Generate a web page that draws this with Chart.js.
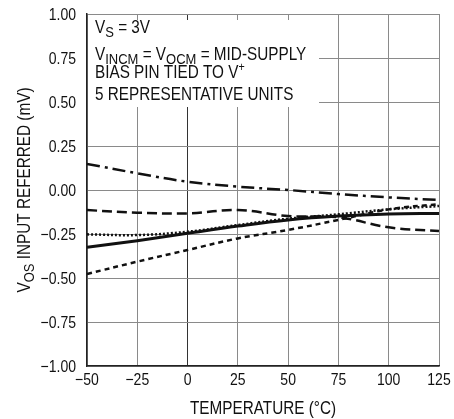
<!DOCTYPE html>
<html>
<head>
<meta charset="utf-8">
<script src="https://cdn.jsdelivr.net/npm/chart.js@4.4.0/dist/chart.umd.min.js"></script>
<style>
  html, body { margin: 0; padding: 0; background: #fff; }
  #wrap { width: 454px; height: 419px; }
</style>
</head>
<body>
<div id="wrap"><canvas id="grafik" width="454" height="419"></canvas></div>
<script>
// temperatures (°C)
const temps = [-50, -25, 0, 25, 50, 75, 100, 125];

// five units, Vos in mV
const unitDashDot = [0.148, 0.095, 0.047, 0.019, 0.000, -0.023, -0.042, -0.057];
const unitDashed = [-0.114, -0.129, -0.133, -0.114, -0.148, -0.155, -0.212, -0.233];
const unitSolid = [-0.326, -0.288, -0.246, -0.205, -0.170, -0.148, -0.136, -0.133];
const unitDotted = [-0.252, -0.256, -0.237, -0.199, -0.163, -0.138, -0.110, -0.091];
const unitShortDash = [-0.477, -0.407, -0.341, -0.275, -0.227, -0.170, -0.110, -0.080];

const yTicks = [-1, -0.75, -0.5, -0.25, 0, 0.25, 0.5, 0.75, 1];
const xTicks = [-50, -25, 0, 25, 50, 75, 100, 125];

// condensed look: Liberation Sans squeezed horizontally
const FONT = "'Liberation Sans', Arial, sans-serif";
const SQUEEZE = 0.85;

function pts(vals) {
    return temps.map((t, i) => ({ x: t, y: vals[i] }));
}

function minus(s) {
    return String(s).replace('-', '\u2212');
}

function line(vals, dash, width) {
    return {
        data: pts(vals),
        borderColor: '#111',
        borderWidth: width,
        borderDash: dash,
        pointRadius: 0,
        tension: 0.4,
        fill: false
    };
}

function partSize(p, size) {
    if (p.sub) return size * 0.85;
    if (p.sup) return size * 0.7;
    return size;
}

function partsWidth(ctx, parts, size) {
    let w = 0;
    parts.forEach(p => {
        ctx.font = partSize(p, size) + 'px ' + FONT;
        w += ctx.measureText(p.t).width;
    });
    return w * SQUEEZE;
}

// row of text pieces (sub/superscript allowed), squeezed, left aligned at x
function drawRich(ctx, x, y, parts, size) {
    ctx.save();
    ctx.translate(x, y);
    ctx.scale(SQUEEZE, 1);
    let cx = 0;
    parts.forEach(p => {
        let dy = 0;
        if (p.sub) dy = size * 0.24;
        if (p.sup) dy = -size * 0.38;
        ctx.font = partSize(p, size) + 'px ' + FONT;
        ctx.fillText(p.t, cx, dy);
        cx += ctx.measureText(p.t).width;
    });
    ctx.restore();
}

function drawText(ctx, text, x, y, size, align) {
    const w = partsWidth(ctx, [{ t: text }], size);
    let x0 = x;
    if (align === 'center') x0 = x - w / 2;
    if (align === 'right') x0 = x - w;
    drawRich(ctx, x0, y, [{ t: text }], size);
}

const notePlugin = {
    id: 'notes',
    beforeDatasetsDraw(chart) {
        const ctx = chart.ctx;
        const a = chart.chartArea;
        ctx.save();
        ctx.fillStyle = '#fff';
        ctx.fillRect(a.left + 1, a.top + 6, 318 - a.left, 107 - a.top - 6);
        ctx.fillStyle = '#111';
        ctx.textBaseline = 'alphabetic';
        ctx.textAlign = 'left';
        const x0 = a.left + 8;
        drawRich(ctx, x0, 33, [{ t: 'V' }, { t: 'S', sub: true }, { t: ' = 3V' }], 18);
        drawRich(ctx, x0, 60, [{ t: 'V' }, { t: 'INCM', sub: true }, { t: ' = V' }, { t: 'OCM', sub: true }, { t: ' = MID-SUPPLY' }], 18);
        drawRich(ctx, x0, 78, [{ t: 'BIAS PIN TIED TO V' }, { t: '+', sup: true }], 18);
        drawRich(ctx, x0, 100, [{ t: '5 REPRESENTATIVE UNITS' }], 18);
        ctx.restore();
    },
    afterDraw(chart) {
        const ctx = chart.ctx;
        const a = chart.chartArea;
        const xs = chart.scales.x, ys = chart.scales.y;
        ctx.save();
        ctx.fillStyle = '#111';
        ctx.textAlign = 'left';
        ctx.textBaseline = 'alphabetic';

        // tick labels placed by the library's scales
        xTicks.forEach(v => {
            drawText(ctx, minus(v), xs.getPixelForValue(v), 385, 16.5, 'center');
        });
        yTicks.forEach(v => {
            drawText(ctx, minus(v.toFixed(2)), 76, ys.getPixelForValue(v) + 6, 16.5, 'right');
        });

        drawText(ctx, 'TEMPERATURE (\u00B0C)', (a.left + a.right) / 2, 414, 18, 'center');

        // rotated y title with subscript
        const parts = [{ t: 'V' }, { t: 'OS', sub: true }, { t: ' INPUT REFERRED (mV)' }];
        const w = partsWidth(ctx, parts, 18);
        ctx.translate(30, (a.top + a.bottom) / 2);
        ctx.rotate(-Math.PI / 2);
        drawRich(ctx, -w / 2, 0, parts, 18);
        ctx.restore();
    }
};

new Chart(document.getElementById('grafik').getContext('2d'), {
    type: 'line',
    data: {
        datasets: [
            line(unitDashDot, [13, 5, 3, 5], 2.5),
            line(unitDashed, [10, 5], 2.5),
            line(unitShortDash, [5, 4], 2.5),
            line(unitDotted, [2, 2], 2.5),
            line(unitSolid, [], 3)
        ]
    },
    options: {
        responsive: false,
        animation: false,
        devicePixelRatio: 1,
        layout: { padding: { top: 14, right: 15, left: 0, bottom: 0 } },
        plugins: { legend: { display: false }, tooltip: { enabled: false } },
        scales: {
            x: {
                type: 'linear',
                min: -50,
                max: 125,
                afterFit: s => { s.height = 53; },
                afterBuildTicks: s => { s.ticks = xTicks.map(v => ({ value: v })); },
                grid: {
                    drawTicks: false,
                    lineWidth: 1,
                    color: ctx => ctx.tick && ctx.tick.value === 0 ? '#333' : '#8a8a8a'
                },
                border: { color: '#222', width: 1.5 },
                ticks: { display: false }
            },
            y: {
                type: 'linear',
                min: -1,
                max: 1,
                afterFit: s => { s.width = 87; },
                afterBuildTicks: s => { s.ticks = yTicks.map(v => ({ value: v })); },
                grid: { drawTicks: false, lineWidth: 1, color: '#8a8a8a' },
                border: { color: '#222', width: 1.5 },
                ticks: { display: false }
            }
        }
    },
    plugins: [notePlugin]
});
</script>
</body>
</html>
